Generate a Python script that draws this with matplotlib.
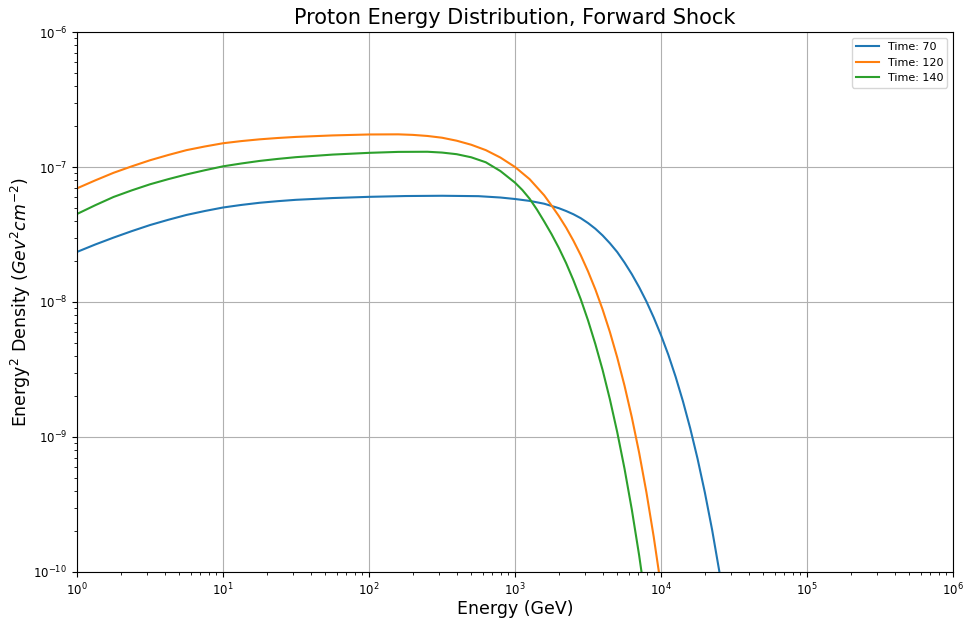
import numpy as np
import matplotlib
matplotlib.use("Agg")
import matplotlib.pyplot as plt

# values, stored as log10(energy / GeV) and log10(E^2 density)
loge_70 = [0, 0.125, 0.25, 0.375, 0.5, 0.625, 0.75, 0.875, 1.0, 1.125, 1.25,
           1.375, 1.5, 1.75, 2.0, 2.25, 2.5, 2.75, 2.9, 3.0, 3.1, 3.2, 3.3,
           3.35, 3.4, 3.45, 3.5, 3.55, 3.6, 3.65, 3.7, 3.75, 3.8, 3.85, 3.9,
           3.95, 4.0, 4.05, 4.1, 4.15, 4.2, 4.25, 4.3, 4.35, 4.4, 4.45]
logd_70 = [-7.629, -7.574, -7.523, -7.475, -7.430, -7.391, -7.355, -7.326,
           -7.300, -7.281, -7.265, -7.253, -7.243, -7.230, -7.221, -7.215,
           -7.213, -7.216, -7.226, -7.237, -7.251, -7.272, -7.305, -7.326,
           -7.350, -7.379, -7.415, -7.457, -7.507, -7.565, -7.630, -7.708,
           -7.794, -7.890, -7.996, -8.115, -8.246, -8.391, -8.554, -8.735,
           -8.936, -9.160, -9.410, -9.688, -10.0, -10.347]

loge_120 = [0, 0.125, 0.25, 0.375, 0.5, 0.625, 0.75, 0.875, 1.0, 1.125, 1.25,
            1.375, 1.5, 1.75, 2.0, 2.2, 2.3, 2.4, 2.5, 2.6, 2.7, 2.8, 2.9,
            3.0, 3.1, 3.2, 3.25, 3.3, 3.35, 3.4, 3.45, 3.5, 3.55, 3.6, 3.65,
            3.7, 3.75, 3.8, 3.85, 3.9, 3.95, 4.0]
logd_120 = [-7.158, -7.099, -7.043, -6.995, -6.950, -6.911, -6.875, -6.848,
            -6.824, -6.808, -6.795, -6.785, -6.777, -6.766, -6.759, -6.758,
            -6.762, -6.770, -6.783, -6.805, -6.835, -6.875, -6.930, -7.0,
            -7.090, -7.210, -7.285, -7.363, -7.449, -7.546, -7.653, -7.773,
            -7.906, -8.056, -8.223, -8.411, -8.620, -8.854, -9.116, -9.410,
            -9.740, -10.108]

loge_140 = [0, 0.125, 0.25, 0.375, 0.5, 0.625, 0.75, 0.875, 1.0, 1.125, 1.25,
            1.375, 1.5, 1.75, 2.0, 2.2, 2.4, 2.5, 2.6, 2.7, 2.8, 2.9, 3.0,
            3.05, 3.1, 3.15, 3.2, 3.25, 3.3, 3.35, 3.4, 3.45, 3.5, 3.55, 3.6,
            3.65, 3.7, 3.75, 3.8, 3.85, 3.9]
logd_140 = [-7.348, -7.283, -7.222, -7.173, -7.128, -7.090, -7.055, -7.024,
            -6.995, -6.974, -6.955, -6.940, -6.927, -6.908, -6.895, -6.888,
            -6.887, -6.893, -6.905, -6.928, -6.965, -7.030, -7.116, -7.170,
            -7.235, -7.315, -7.404, -7.497, -7.599, -7.712, -7.839, -7.979,
            -8.136, -8.311, -8.504, -8.722, -8.964, -9.235, -9.538, -9.876,
            -10.255]

series = [("Time: 70", loge_70, logd_70),
          ("Time: 120", loge_120, logd_120),
          ("Time: 140", loge_140, logd_140)]

fig = plt.figure(figsize=(9.65, 6.23), dpi=100)
ax = fig.add_axes([0.0798, 0.0819, 0.9078, 0.8667])

for name, le, ld in series:
    ax.plot(np.power(10.0, le), np.power(10.0, ld), label=name)

ax.set_xscale("log")
ax.set_yscale("log")
ax.set_xlim(1, 1e6)
ax.set_ylim(1e-10, 1e-6)
ax.grid(True)
ax.tick_params(labelsize=8.5)

ax.set_title("Proton Energy Distribution, Forward Shock", fontsize=15)
ax.set_xlabel("Energy (GeV)", fontsize=12.5, labelpad=1)
ax.set_ylabel("Energy$^2$ Density ($Gev^2 cm^{-2}$)", fontsize=12.5, labelpad=0)
ax.legend(loc="upper right", fontsize=8)

fig.savefig("out.png", dpi=100)
